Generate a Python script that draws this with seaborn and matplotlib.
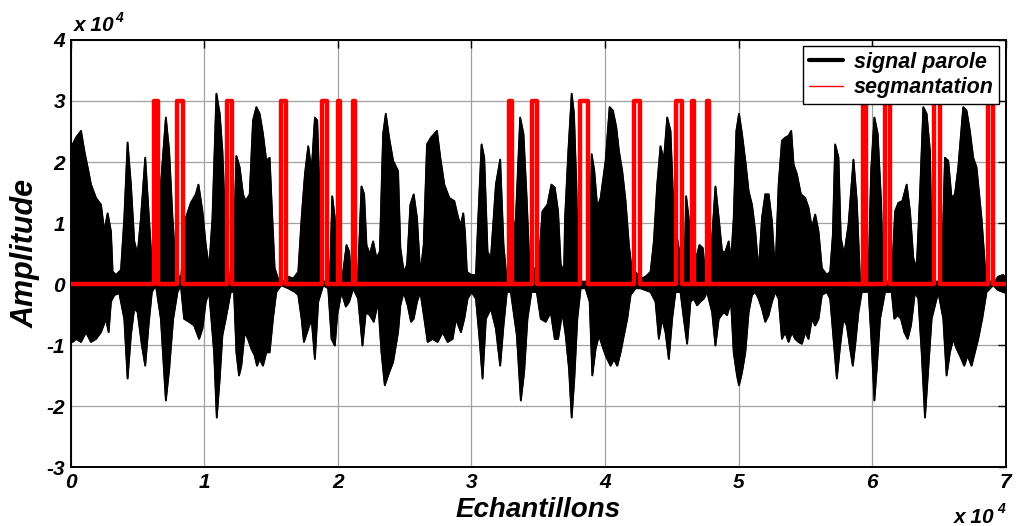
import numpy as np
import pandas as pd
import matplotlib
matplotlib.use("Agg")
import matplotlib.pyplot as plt
from matplotlib.lines import Line2D
from matplotlib.ticker import FuncFormatter, MultipleLocator
import seaborn as sns

# --- DATA ---
# speech signal envelope: sample index / amplitude in units of 1e4
upper_x = [0, 147, 396, 770, 1019, 1268, 1517, 1890, 2264, 2513, 2762, 3011, 3136, 3385, 3760,
           4007, 4256, 4505, 4754, 5003, 5252, 5576, 5825, 6074, 6323, 6746, 7120, 7369, 7618,
           7867, 8240, 8614, 8988, 9362, 9561, 9860, 10109, 10358, 10607, 10905, 11155, 11354,
           11553, 11852, 12150,
           12399, 12648, 12897, 13097, 13395, 13644, 13894, 14143, 14392, 14641, 14890, 15090,
           15264, 15513, 15912, 16286, 16659, 17033, 17282, 17531, 17780, 18029, 18278, 18453,
           18652, 18901, 19399, 19574, 19773, 19947, 20395, 20645, 20844, 21018, 21516, 21765,
           21965, 22140, 22389, 22638, 22887, 23136, 23385, 23585, 23834, 24133, 24506,
           24677, 24927, 25176, 25425, 25674, 25923, 26172, 26421, 26670, 26969, 27418, 27667,
           27966, 28339, 28713, 29012, 29211, 29385, 29510, 29659, 29958, 30332, 30506, 30755,
           30955, 31204, 31453, 31827, 32150, 32399, 32648, 33321, 33644, 33893, 34142, 34392,
           35064, 35313, 35687, 35986, 36235, 36484, 36683, 36932,
           37003, 37252, 37502, 37676, 37850, 38000, 38847, 38996, 39196, 39420, 39669, 40043,
           40341, 40590, 40840, 41039, 41288, 41537, 41786, 41986, 42733, 43032, 43405, 43654,
           43903, 44152, 44402, 44651, 44900, 45149, 45921, 46070, 46320, 46519, 46818, 47067,
           47316, 47515, 48013, 48263, 48512, 48761, 49010, 49259,
           49431, 49630, 49830, 50029, 50253, 50502, 50751, 51000, 51249, 51498, 51747, 51996,
           52245, 52494, 52743, 52993, 53242, 53491, 53740, 53939, 54114, 54363, 54662, 54985,
           55234, 55483, 55733, 55982, 56231, 56605, 56854, 57053, 57227, 57476, 57651, 57900,
           58224, 58597, 58846, 59095, 59718,
           59915, 60164, 60413, 60662, 60837, 61460, 61709, 61958, 62257, 62581, 62830, 63079,
           63328, 63577, 63826, 64075, 64324, 64499, 65196, 65445, 65694, 65943, 66193, 66442,
           66815, 67064, 67313, 67562, 67812, 68185, 68434, 68683, 69181, 69431, 69804, 70000]
upper_amp = [1.6, 2.29, 2.40, 2.51, 2.18, 1.91, 1.63, 1.41, 1.30, 0.86, 1.16, 0.86, 0.20, 0.15, 0.23,
             1.08, 2.32, 1.63, 0.70, 0.48, 1.08, 2.07, 1.19, 0.31, 0.04, 1.63, 2.73, 2.18, 1.08,
             0.26, 0.04, 1.08, 1.33, 1.47, 1.63, 1.19, 0.64, 0.26, 1.08, 3.12, 2.79, 2.18,
             1.08, 0.04, 0.20,
             2.10, 1.91, 1.47, 1.36, 1.47, 2.68, 2.90, 2.79, 2.46, 2.02, 2.07, 1.08,
             0.26, 0.09, 0.04, 0.12, 0.09, 0.20, 1.08, 1.80, 2.26, 1.85, 2.73, 2.68,
             1.36, 0.04, 0.04, 1.44, 1.08, 0.04, 0.20, 0.64, 0.53, 0.04, 0.20, 1.60,
             1.47, 0.64, 0.48, 0.70, 0.42, 0.53, 2.46, 2.79, 2.40, 2.02, 1.85,
             0.59, 0.20, 0.31, 1.30, 1.47, 1.08, 0.15, 0.64, 2.29, 2.40, 2.51, 2.07,
             1.63, 1.41, 1.36, 1.08, 0.97, 1.16, 0.86, 0.20, 0.15, 0.15, 1.08, 2.29,
             2.07, 0.53, 0.42, 1.63, 2.04, 0.64, 0.04, 1.08, 2.73, 2.46, 1.36, 0.04,
             0.42, 1.19, 1.30, 1.63, 1.58, 1.19, 0.31, 0.23,
             1.08, 2.18, 3.12, 2.79, 1.63, 0.04, 0.04, 2.13, 1.85, 1.25, 1.41, 2.02,
             2.90, 2.84, 2.57, 2.18, 1.85, 1.36, 0.64, 0.26, 0.09, 0.12, 0.20, 0.70,
             1.63, 2.26, 2.02, 2.73, 2.51, 1.08, 0.04, 1.44, 0.97, 0.15, 0.42, 0.64,
             0.59, 0.15, 0.75, 1.60, 1.08, 0.53, 0.53, 0.70,
             0.37, 1.08, 2.51, 2.79, 2.46, 2.02, 1.52, 1.30, 0.86, 0.20, 1.08, 1.47,
             1.47, 1.03, 0.15, 1.63, 2.35, 2.40, 2.43, 2.51, 1.96, 1.80, 1.47, 1.41,
             1.25, 0.92, 1.14, 0.86, 0.26, 0.15, 0.20, 0.81, 2.29, 2.07, 0.75, 0.48,
             0.97, 2.04, 1.36, 0.04, 0.04,
             1.85, 2.73, 2.46, 1.36, 0.04, 0.04, 1.19, 1.33, 1.36, 1.63, 1.19, 0.42,
             0.26, 1.47, 2.90, 2.79, 2.18, 0.04, 0.04, 2.07, 2.02, 1.41, 1.47, 1.91,
             2.90, 2.84, 2.51, 2.07, 1.91, 1.08, 0.31, 0.04, 0.04, 0.12, 0.15, 0.09]

lower_x = [0, 147, 396, 770, 1143, 1517, 1890, 2264, 2637, 2837, 3011, 3260, 3635, 4007, 4256,
           4505, 4754, 5003, 5327, 5576, 5825, 6074, 6373, 6746, 7120, 7369, 7668, 7992, 8240,
           8489, 8863, 9237, 9611, 9860, 10109, 10358, 10731, 10930, 11155, 11354, 11603, 11976,
           12226,
           12399, 12599, 12772, 13022, 13271, 13520, 13769, 13944, 14143, 14392, 14641, 14890,
           15139, 15388, 15762, 16286, 16784, 17033, 17282, 17457, 17780, 18029, 18278, 18527,
           18901, 19274, 19524, 19773, 19947, 20271, 20595, 20844, 21143, 21516, 21840, 22090,
           22389, 22688, 23012, 23261, 23510, 23834, 24133, 24506,
           24677, 24927, 25226, 25475, 25674, 25923, 26172, 26471, 26720, 27094, 27468, 27841,
           28215, 28589, 28838, 29211, 29460, 29709, 30008, 30332, 30581, 30830, 31079, 31453,
           31827, 32150, 32399, 32648, 32947, 33396, 33694, 33943, 34192, 34491, 34890, 35189,
           35562, 35936, 36235, 36484, 36808,
           37053, 37302, 37502, 37701, 37925, 38174, 38548, 38847, 39046, 39295, 39545, 39794,
           40043, 40416, 40665, 40914, 41164, 41413, 41662, 41911, 42285, 42658, 43032, 43405,
           43779, 44028, 44277, 44526, 44775, 45025, 45274, 45647, 45897, 46146, 46395, 46644,
           46893, 47142, 47391, 47641, 48014, 48263, 48512, 48886, 49135,
           49431, 49630, 49879, 50029, 50253, 50502, 50751, 51000, 51249, 51498, 51747, 51996,
           52245, 52494, 52743, 52993, 53242, 53491, 53740, 53989, 54238, 54487, 54737, 54985,
           55234, 55483, 55733, 55982, 56231, 56605, 56854, 57103, 57352, 57601, 57850, 58099,
           58348, 58548, 58722, 58971, 59220, 59594,
           59716, 59965, 60164, 60339, 60588, 60962, 61460, 61659, 61908, 62157, 62407, 62656,
           62905, 63204, 63453, 63702, 63951, 64200, 64449, 64948, 65321, 65570, 65819, 66068,
           66317, 66566, 66890, 67139, 67438, 67687, 67936, 68235, 68559, 69057, 69431, 69804,
           70000]
lower_amp = [-0.8, -0.95, -0.90, -0.95, -0.79, -0.95, -0.90, -0.79, -0.57, -0.79, -0.29, -0.18, -0.15,
             -0.57, -1.55, -0.84, -0.40, -0.46, -1.01, -1.34, -0.68, -0.13, -0.02, -0.57, -1.91,
             -1.40, -0.57, -0.13, -0.02, -0.57, -0.62, -0.68, -0.90, -0.73, -0.29, -0.13, -1.12,
             -2.19, -1.55, -0.84, -0.57, -0.13, -0.13,
             -1.12, -1.50, -1.34, -0.79, -0.90, -1.06, -1.17, -1.34, -1.23, -1.34, -1.12, -1.12,
             -0.57, -0.13, -0.02, -0.07, -0.13, -0.18, -0.57, -0.95, -0.73, -0.57, -1.23, -0.29,
             -0.02, -0.07, -0.90, -1.01, -0.51, -0.13, -0.37, -0.29, -0.07, -0.24, -1.01, -0.46,
             -0.51, -0.62, -0.29, -1.12, -1.66, -1.45, -1.28, -0.79,
             -0.35, -0.13, -0.35, -0.62, -0.57, -0.29, -0.13, -0.57, -0.95, -0.90, -0.95, -0.79,
             -0.95, -0.90, -0.57, -0.79, -0.57, -0.24, -0.13, -0.24, -0.84, -1.55, -0.57, -0.40,
             -0.73, -1.34, -0.68, -0.13, -0.13, -0.84, -1.91, -1.45, -0.57, -0.13, -0.13, -0.57,
             -0.62, -0.46, -0.90, -0.90, -0.46,
             -0.84, -1.39, -2.19, -1.55, -0.57, -0.07, -0.07, -0.29, -1.50, -1.06, -0.84, -1.01,
             -1.17, -1.34, -1.23, -1.34, -1.12, -0.84, -0.57, -0.18, -0.07, -0.07, -0.10, -0.13,
             -0.29, -0.90, -0.57, -0.79, -1.23, -0.57, -0.13, -0.13, -0.57, -0.98, -0.29, -0.24,
             -0.35, -0.29, -0.24, -0.13, -0.46, -1.01, -0.57, -0.46, -0.51,
             -0.29, -1.12, -1.50, -1.66, -1.45, -1.12, -0.46, -0.18, -0.13, -0.24, -0.40, -0.62,
             -0.51, -0.29, -0.13, -0.24, -0.90, -0.79, -0.95, -0.79, -0.90, -0.95, -0.98, -0.79,
             -0.90, -0.57, -0.68, -0.57, -0.18, -0.13, -0.24, -0.90, -1.55, -1.01, -0.57, -0.68,
             -1.06, -1.34, -1.01, -0.46, -0.13, -0.13,
             -0.07, -1.01, -1.91, -1.39, -0.57, -0.13, -0.13, -0.57, -0.51, -0.57, -0.79, -0.90,
             -0.68, -0.13, -0.24, -1.12, -2.19, -1.39, -0.57, -0.13, -0.57, -1.50, -1.12, -0.90,
             -1.06, -1.17, -1.34, -1.17, -1.34, -1.12, -0.90, -0.57, -0.13, -0.02, -0.10, -0.13,
             -0.15]

# segmentation pulses (start, end sample), height 3e4
seg_start = [6220, 7970, 11700, 15740, 18780, 19970, 21110, 32800, 34540,
             38150, 42180, 45300, 46520, 47640, 59290, 60960, 64650, 68700]
seg_end = [6540, 8390, 12080, 16090, 19170, 20170, 21310, 33040, 34910,
           38700, 42580, 45770, 46670, 47810, 59560, 61340, 65040, 69080]
seg_level = 3e4
n_samples = 70000

# --- BUILD ---
upper = pd.DataFrame({"x": upper_x, "amp": np.array(upper_amp) * 1e4})
lower = pd.DataFrame({"x": lower_x, "amp": np.array(lower_amp) * 1e4})

seg_x = [0]
seg_y = [0]
for s, e in zip(seg_start, seg_end):
    seg_x += [s, s, e, e]
    seg_y += [0, seg_level, seg_level, 0]
seg_x.append(n_samples)
seg_y.append(0)
seg = pd.DataFrame({"x": seg_x, "y": seg_y})

# --- PLOT ---
sns.set_theme(style="white")
plt.rcParams["font.family"] = ["Liberation Sans", "DejaVu Sans"]
plt.rcParams.update({"text.color": "black", "axes.labelcolor": "black",
                     "xtick.color": "black", "ytick.color": "black"})
bi = dict(fontweight="bold", fontstyle="italic", color="black")

fig = plt.figure(figsize=(10.18, 5.26), dpi=100)
ax = fig.add_axes([0.0695, 0.112, 0.9185, 0.812])

poly_x = np.r_[upper["x"].values, lower["x"].values[::-1]]
poly_y = np.r_[upper["amp"].values, lower["amp"].values[::-1]]
ax.fill(poly_x, poly_y, color="black", lw=1.0, zorder=2)
sns.lineplot(data=upper, x="x", y="amp", ax=ax, color="black", lw=1.3,
             estimator=None, sort=False, zorder=2)
sns.lineplot(data=lower, x="x", y="amp", ax=ax, color="black", lw=1.3,
             estimator=None, sort=False, zorder=2)
sns.lineplot(data=seg, x="x", y="y", ax=ax, color="red", lw=3.2,
             estimator=None, sort=False, zorder=3)

ax.set_xlim(0, n_samples)
ax.set_ylim(-3e4, 4e4)
ax.xaxis.set_major_locator(MultipleLocator(1e4))
ax.yaxis.set_major_locator(MultipleLocator(1e4))
fmt = FuncFormatter(lambda v, p: f"{v / 1e4:g}")
ax.xaxis.set_major_formatter(fmt)
ax.yaxis.set_major_formatter(fmt)

ax.set_axisbelow(True)
ax.grid(True, color="#a0a0a0", lw=0.9)
ax.tick_params(direction="in", top=True, right=True, length=6, width=1,
               color="black", labelcolor="black", labelsize=15, pad=4)
for lab in ax.get_xticklabels() + ax.get_yticklabels():
    lab.set_fontweight("bold")
    lab.set_fontstyle("italic")
for sp in ax.spines.values():
    sp.set_color("black")
    sp.set_linewidth(1.4)

ax.set_xlabel("Echantillons", fontsize=20, labelpad=4, **bi)
ax.set_ylabel("Amplitude", fontsize=22, labelpad=4, **bi)

# x 10^4 multipliers
ax.text(0.003, 1.012, "x 10", transform=ax.transAxes, fontsize=15, ha="left", va="bottom", **bi)
ax.text(0.048, 1.035, "4", transform=ax.transAxes, fontsize=10, ha="left", va="bottom", **bi)
ax.text(0.945, -0.095, "x 10", transform=ax.transAxes, fontsize=15, ha="left", va="top", **bi)
ax.text(0.991, -0.082, "4", transform=ax.transAxes, fontsize=10, ha="left", va="top", **bi)

handles = [Line2D([], [], color="black", lw=3),
           Line2D([], [], color="red", lw=1)]
leg = ax.legend(handles, ["signal parole", "segmantation"], loc="upper right",
                prop=dict(size=15.5, weight="bold", style="italic"),
                frameon=True, fancybox=False, framealpha=1, edgecolor="black",
                handlelength=1.6, handletextpad=0.5, borderpad=0.25,
                labelspacing=0.2, borderaxespad=0.3)
leg.get_frame().set_linewidth(1.0)
for t in leg.get_texts():
    t.set_color("black")

fig.savefig("out.png", dpi=100)
